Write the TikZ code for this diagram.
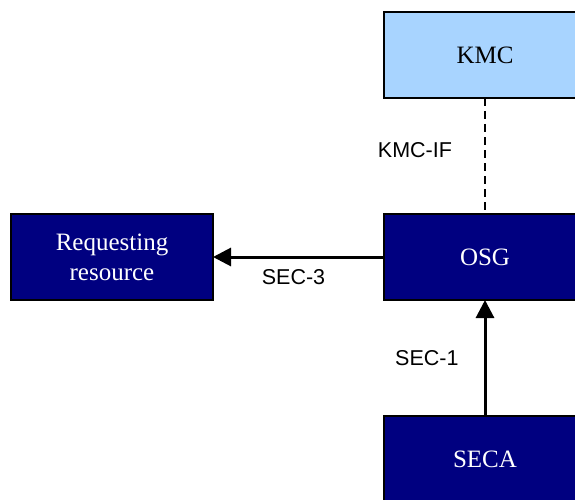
\documentclass[tikz,border=0pt]{standalone}
\usepackage{fontspec}
\setmainfont{Liberation Serif}
\newfontfamily\labelfont{Liberation Sans}
\usetikzlibrary{arrows.meta,
                positioning}
\definecolor{navyfill}{RGB}{0,0,128}
\definecolor{kmcfill}{RGB}{168,212,255}

\begin{document}
\begin{tikzpicture}[x=1pt, y=-1pt,
node distance = 116pt and 171pt,
   BOX/.style = {draw, line width=2.5pt, minimum width=202pt, minimum height=86pt,
                 inner sep=0pt, outer sep=0pt, align=center,
                 font=\fontsize{25}{30}\selectfont},
    CN/.style = {BOX, fill=navyfill, text=white}, % navy box
    CL/.style = {BOX, fill=kmcfill},              % light blue box
   LBL/.style = {font=\labelfont\fontsize{21.5}{26}\selectfont, inner sep=2pt},
   ARR/.style = {line width=3pt, -{Triangle[length=18pt,width=18pt]}}
                        ]
\useasboundingbox (0,0) rectangle (575,500);
\clip (0,0) rectangle (575,500);
% boxes
\node (osg)  [CN] at (485,257) {OSG};
\node (kmc)  [CL, above=of osg] {KMC};
\node (seca) [CN, below=of osg] {SECA};
\node (req)  [CN, left=of osg]  {Requesting\\resource};
% interfaces
\draw[line width=2pt, dash pattern=on 8pt off 5pt] (kmc) -- node[LBL, pos=0.45, left=30pt] {KMC-IF} (osg);
\draw[ARR] (osg) -- node[LBL, below=9pt, xshift=-5pt] {SEC-3} (req);
\draw[ARR] (seca) -- node[LBL, left=23pt] {SEC-1} (osg);
\end{tikzpicture}
\end{document}
